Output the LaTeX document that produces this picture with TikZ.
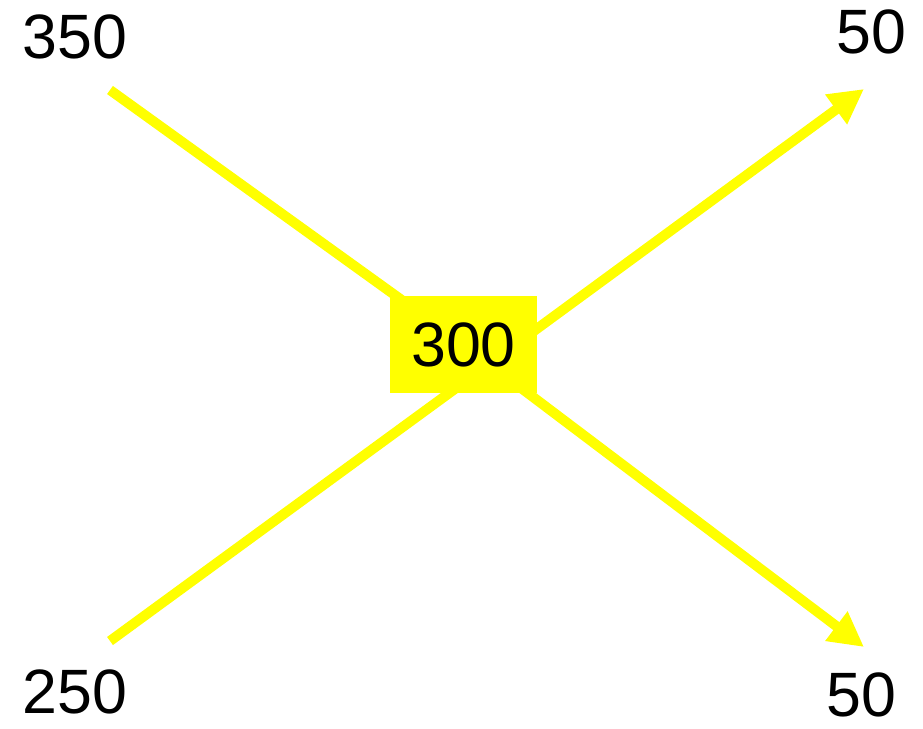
\documentclass[tikz,border=0pt]{standalone}
\usepackage{fontspec}
\setmainfont{Liberation Sans}
\usetikzlibrary{arrows.meta, positioning, backgrounds}
\definecolor{flowyellow}{RGB}{255,255,0}

\begin{document}
\begin{tikzpicture}[
  x=0.75pt, y=-0.75pt,
  qty/.style={font=\fontsize{47}{56}\selectfont, inner sep=0pt, anchor=base},
  hub/.style={rectangle, fill=flowyellow, minimum width=110.25pt, minimum height=72.75pt,
              inner sep=0pt, font=\fontsize{47}{56}\selectfont},
  flow/.style={line width=7.5pt, color=flowyellow},
  outflow/.style={flow, -{Triangle[length=26pt, width=26pt]}}
]
  \useasboundingbox (0,0) rectangle (923,728);

  % quantities
  \node[qty] (q350) at (75,58) {350};
  \node[qty] (q250) at (75,713) {250};
  \node[qty] (q50a) at (871,53) {50};
  \node[qty] (q50b) at (861,716) {50};
  \node[hub] (mix) at (463.5,344.5) {300};

  % line ends
  \coordinate (in350) at (110,90);
  \coordinate (in250) at (110,641);
  \coordinate (tip50a) at (864,89);
  \coordinate (tip50b) at (864,647);
  \coordinate (jlow) at (463,383);

  \begin{scope}[on background layer]
    \draw[flow] (in350) -- (mix.center);
    \draw[outflow] (mix.center) -- (tip50b);
    \draw[flow] (in250) -- (jlow);
    \draw[outflow] (jlow) -- (tip50a);
  \end{scope}
\end{tikzpicture}
\end{document}
